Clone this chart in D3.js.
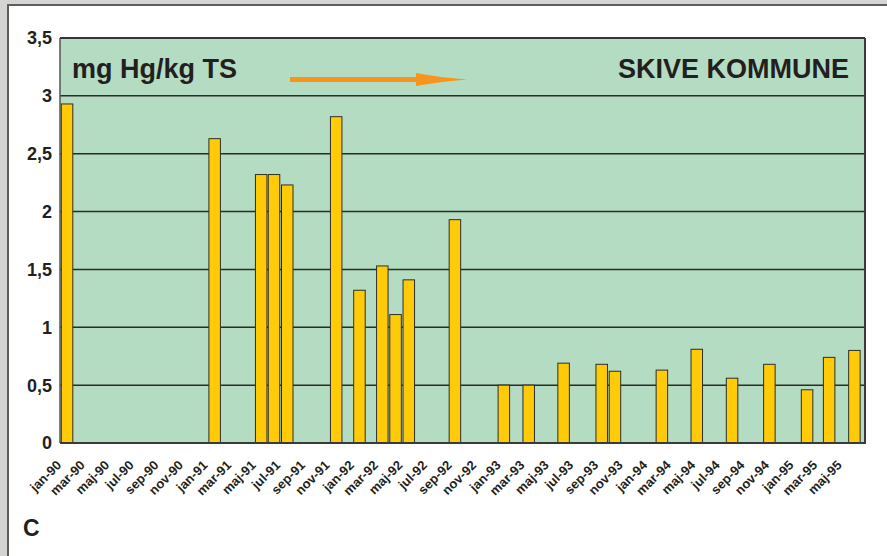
<!DOCTYPE html>
<html>
<head>
<meta charset="utf-8">
<script src="https://cdn.jsdelivr.net/npm/d3@7"></script>
<style>
  html, body { margin: 0; padding: 0; background: #fff; }
  svg { display: block; }
  text { font-family: "Liberation Sans", Arial, Helvetica, sans-serif; font-weight: bold; fill: #231f20; }
</style>
</head>
<body>
<svg id="chart" width="887" height="556"></svg>
<script>
// ---- data ----
const sampleDates = ["1990-01-03","1991-01-06","1991-05-02","1991-06-03","1991-07-06","1991-11-05",
  "1992-01-02","1992-02-28","1992-04-01","1992-05-04","1992-08-27","1992-12-27","1993-02-27",
  "1993-05-25","1993-08-28","1993-09-30","1994-01-25","1994-04-22","1994-07-19","1994-10-20",
  "1995-01-22","1995-03-18","1995-05-20"];
const hgValues = [2.93,2.63,2.32,2.32,2.23,2.82,1.32,1.53,1.11,1.41,1.93,0.50,0.50,0.69,0.68,0.62,
  0.63,0.81,0.56,0.68,0.46,0.74,0.80];
const monthNames = ["jan","feb","mar","apr","maj","jun","jul","aug","sep","okt","nov","dec"];
const yTicks = [0,0.5,1,1.5,2,2.5,3,3.5];
const unitLabel = "mg Hg/kg TS";
const placeLabel = "SKIVE KOMMUNE";
const panelLabel = "C";

// ---- layout ----
const svg = d3.select("#chart");
const L = 60, R = 865, T = 38, B = 443;
const parse = d3.utcParse("%Y-%m-%d");
const x = d3.scaleUtc().domain([parse("1990-01-01"), parse("1995-07-01")]).range([L, R]);
const y = d3.scaleLinear().domain([0, 3.5]).range([B, T]);

// outer frame
svg.append("rect").attr("x",0).attr("y",0).attr("width",887).attr("height",556).attr("fill","#fff");
svg.append("rect").attr("x",0).attr("y",0).attr("width",887).attr("height",4).attr("fill","#d4d4d2");
svg.append("rect").attr("x",0).attr("y",0).attr("width",7).attr("height",556).attr("fill","#d4d4d2");
svg.append("line").attr("x1",7).attr("x2",887).attr("y1",5).attr("y2",5).attr("stroke","#5e5e5e").attr("stroke-width",2);
svg.append("line").attr("x1",8).attr("x2",8).attr("y1",4).attr("y2",556).attr("stroke","#5e5e5e").attr("stroke-width",2);

// plot background
svg.append("rect").attr("x",L).attr("y",T).attr("width",R-L).attr("height",B-T).attr("fill","#b3dcc2");

// gridlines
svg.append("g").selectAll("line").data(yTicks.filter(d => d > 0)).join("line")
  .attr("x1",L).attr("x2",R).attr("y1",d => y(d)).attr("y2",d => y(d))
  .attr("stroke","#2b2b2b").attr("stroke-width",1.5);

// y axis labels
const fmt = d => String(d).replace(".", ",");
svg.append("g").selectAll("text").data(yTicks).join("text")
  .attr("x",52).attr("y",d => y(d)).attr("dy","0.36em")
  .attr("text-anchor","end").attr("font-size",18).text(fmt);

// bars
svg.append("g").selectAll("rect").data(sampleDates.map((d,i) => ({date: parse(d), v: hgValues[i]}))).join("rect")
  .attr("x",d => x(d.date) + 0.5).attr("width",11.5)
  .attr("y",d => y(d.v)).attr("height",d => B - y(d.v))
  .attr("fill","#ffcb08").attr("stroke","#2e2e2a").attr("stroke-width",1);

// plot border
svg.append("line").attr("x1",L).attr("x2",L).attr("y1",T).attr("y2",B).attr("stroke","#555").attr("stroke-width",1.5);
svg.append("line").attr("x1",L).attr("x2",R).attr("y1",T).attr("y2",T).attr("stroke","#2b2b2b").attr("stroke-width",1.5);
svg.append("line").attr("x1",R).attr("x2",R).attr("y1",T).attr("y2",B+1).attr("stroke","#3a3a3a").attr("stroke-width",2);
svg.append("line").attr("x1",L).attr("x2",R+1).attr("y1",B).attr("y2",B).attr("stroke","#3a3a3a").attr("stroke-width",2);

// x axis labels every 2 months
const tickDates = d3.utcMonth.every(2).range(parse("1990-01-01"), parse("1995-07-01"));
svg.append("g").selectAll("text").data(tickDates).join("text")
  .attr("transform",d => `translate(${x(d)+2},${466}) rotate(-45)`)
  .attr("text-anchor","end").attr("font-size",13)
  .text(d => monthNames[d.getUTCMonth()] + "-" + String(d.getUTCFullYear()).slice(2));

// header texts
svg.append("text").attr("x",72).attr("y",78).attr("font-size",27).text(unitLabel);
svg.append("text").attr("x",849).attr("y",78).attr("text-anchor","end").attr("font-size",27).text(placeLabel);
svg.append("text").attr("x",23).attr("y",536).attr("font-size",23).text(panelLabel);

// arrow
const ac = "#f7941d";
svg.append("rect").attr("x",290).attr("y",77).attr("width",128).attr("height",5).attr("fill",ac);
svg.append("path").attr("d","M416,73 Q440,77.5 467,79.5 Q440,81.5 416,86 Z").attr("fill",ac);
</script>
</body>
</html>
